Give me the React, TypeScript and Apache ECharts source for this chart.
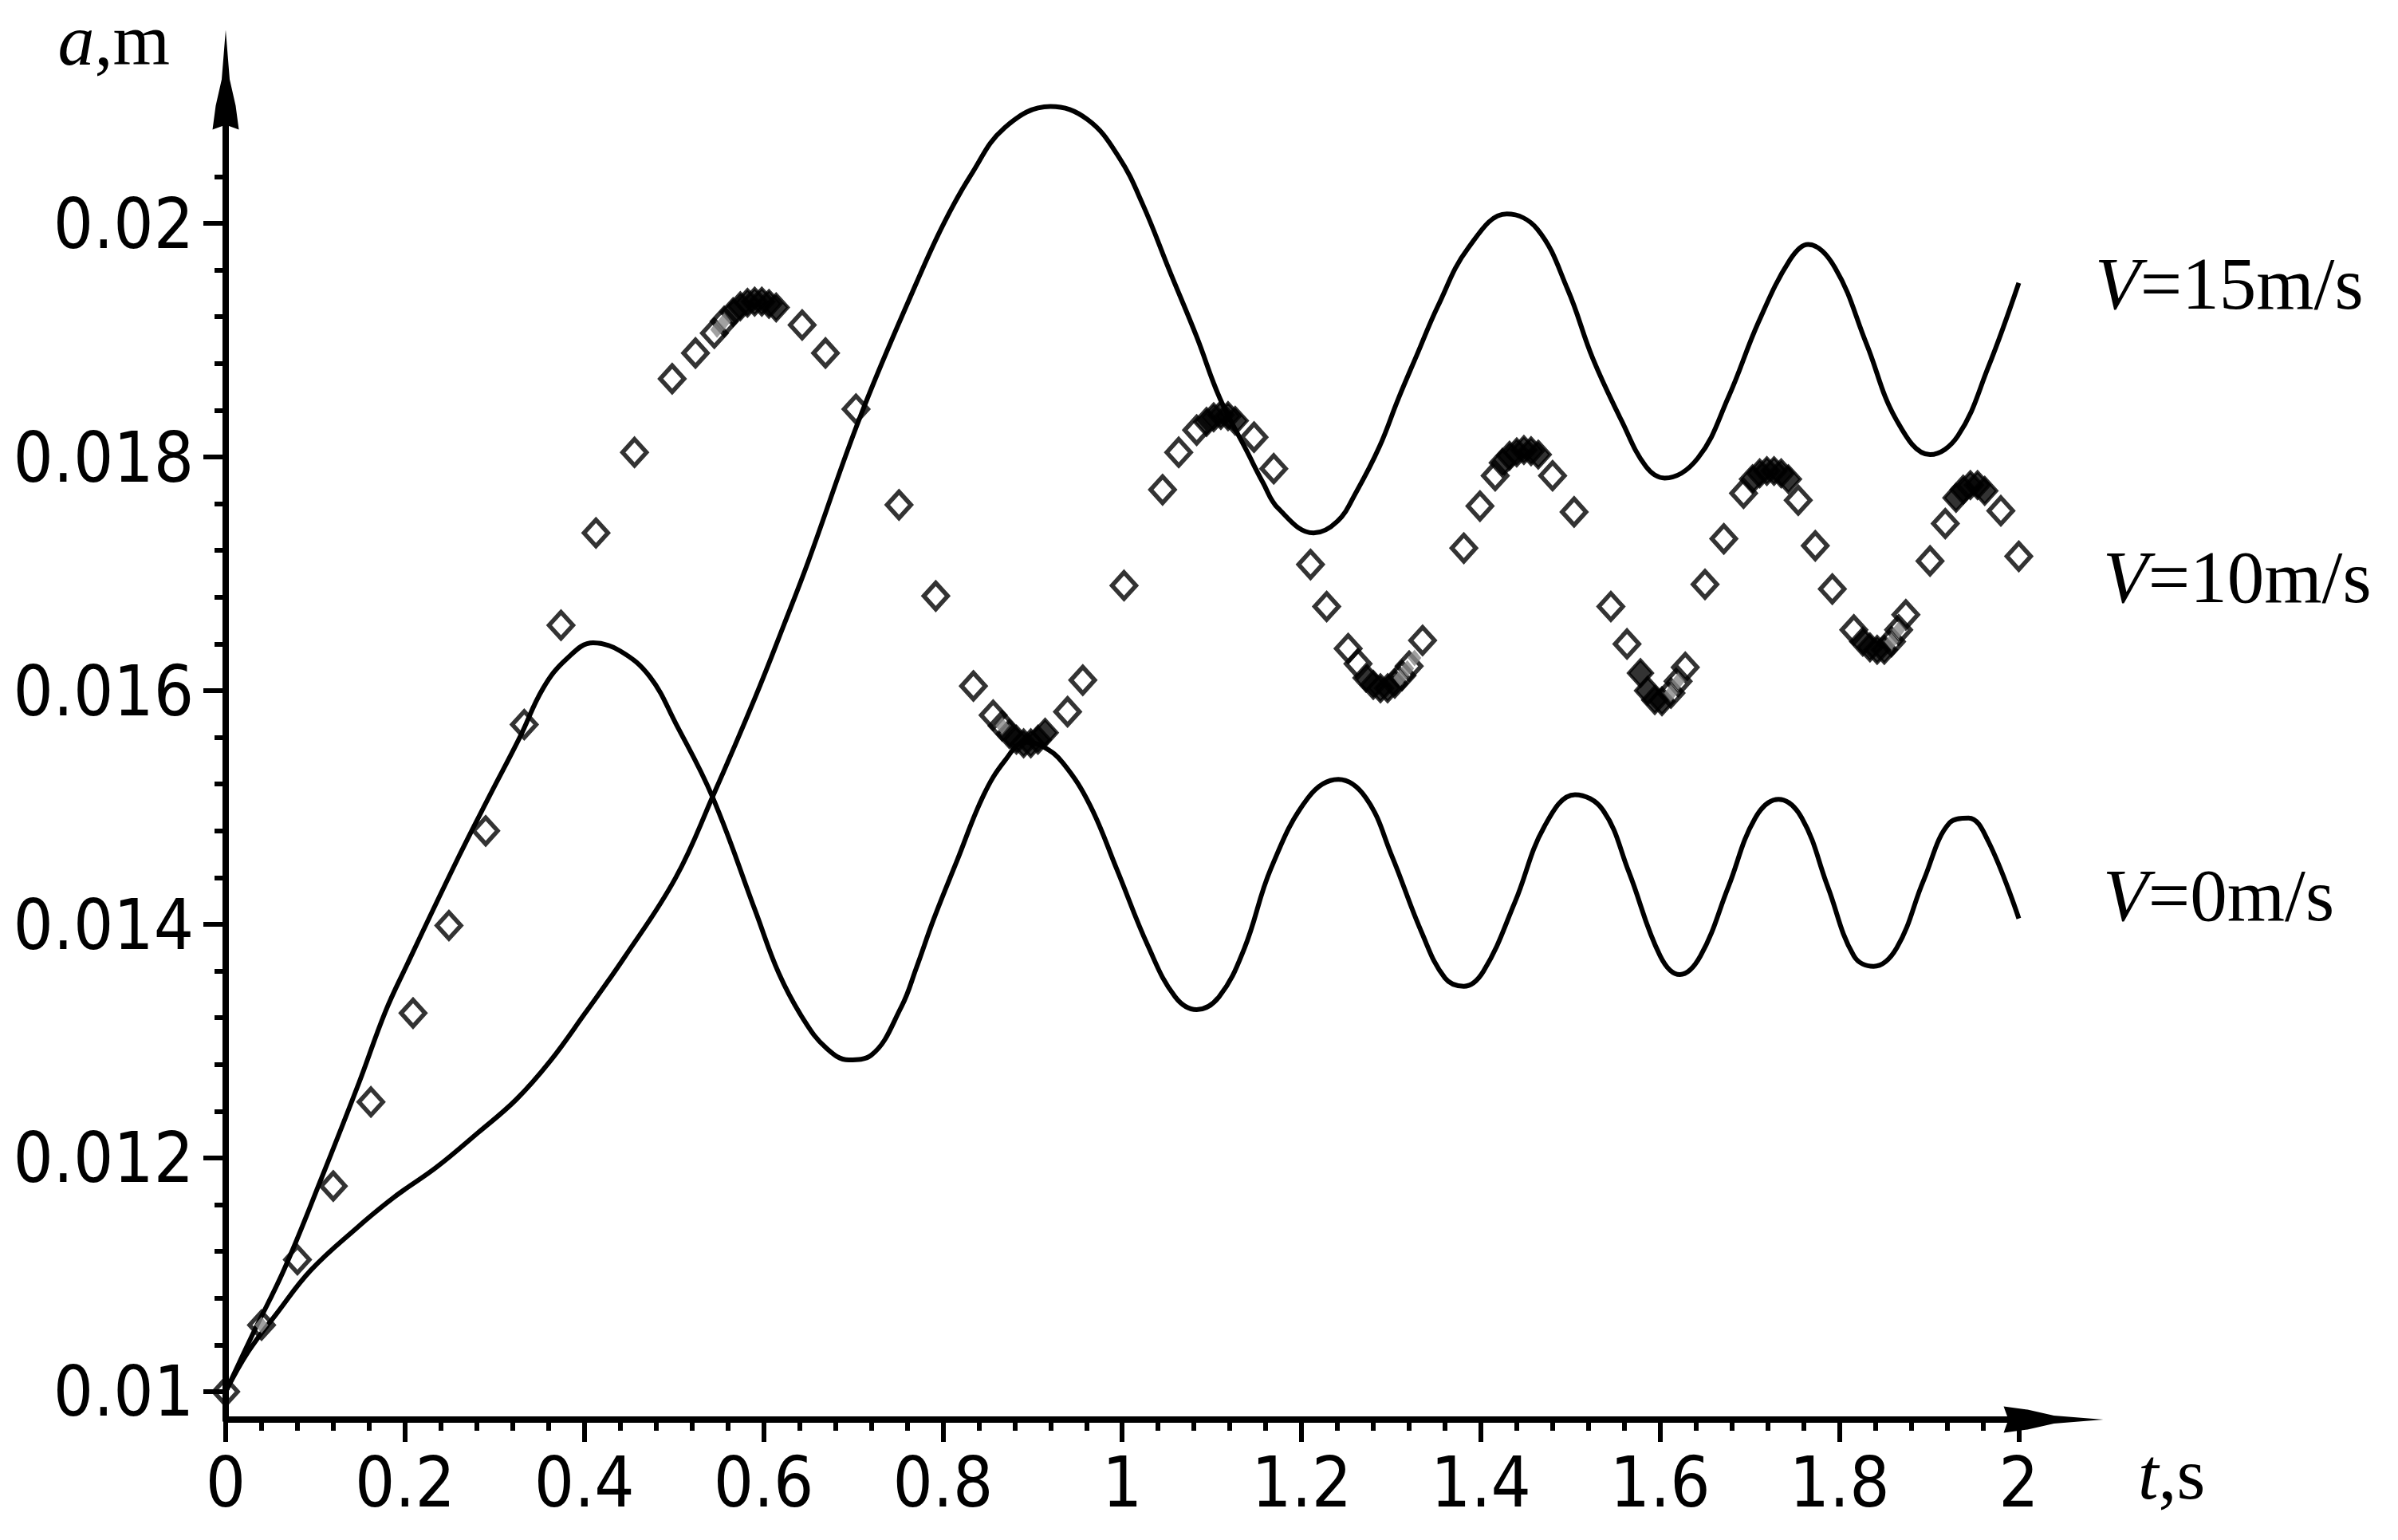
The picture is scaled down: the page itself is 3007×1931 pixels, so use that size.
import React, { useEffect, useRef } from 'react';
import * as echarts from 'echarts';

const W = 3007;
const H = 1931;

// Axis extents (t in s, a in m); the axis ends sit at the arrow centres
const X_MIN = 0;
const X_MAX = 2.0387;
const Y_MIN = 0.009761;
const Y_MAX = 0.021229;

const xMajorTicks = [0, 0.2, 0.4, 0.6, 0.8, 1, 1.2, 1.4, 1.6, 1.8, 2];
const xTickLabels = ['0', '0.2', '0.4', '0.6', '0.8', '1', '1.2', '1.4', '1.6', '1.8', '2'];
const xMinorTicks = [
  0.04, 0.08, 0.12, 0.16, 0.24, 0.28, 0.32, 0.36, 0.44, 0.48, 0.52, 0.56,
  0.64, 0.68, 0.72, 0.76, 0.84, 0.88, 0.92, 0.96, 1.04, 1.08, 1.12, 1.16,
  1.24, 1.28, 1.32, 1.36, 1.44, 1.48, 1.52, 1.56, 1.64, 1.68, 1.72, 1.76,
  1.84, 1.88, 1.92, 1.96,
];
const yMajorTicks = [0.01, 0.012, 0.014, 0.016, 0.018, 0.02];
const yTickLabels = ['0.01', '0.012', '0.014', '0.016', '0.018', '0.02'];
const yMinorTicks = [
  0.0104, 0.0108, 0.0112, 0.0116, 0.0124, 0.0128, 0.0132, 0.0136,
  0.0144, 0.0148, 0.0152, 0.0156, 0.0164, 0.0168, 0.0172, 0.0176,
  0.0184, 0.0188, 0.0192, 0.0196, 0.0204,
];

// V = 0 m/s (solid line)
const v0Curve: [number, number][] = [
  [0, 0.01], [0.03, 0.01049], [0.066, 0.01106], [0.107, 0.01183], [0.149, 0.01265],
  [0.178, 0.01325], [0.202, 0.01365], [0.26, 0.01458], [0.295, 0.01511], [0.328, 0.0156],
  [0.354, 0.01602], [0.38, 0.01627], [0.41, 0.01641], [0.44, 0.01634], [0.473, 0.01612],
  [0.502, 0.01572], [0.543, 0.01509], [0.591, 0.01411], [0.617, 0.01358], [0.645, 0.01318],
  [0.67, 0.01294], [0.695, 0.01284], [0.72, 0.01288], [0.754, 0.0133], [0.77, 0.01362],
  [0.79, 0.01405], [0.816, 0.01455], [0.845, 0.0151], [0.869, 0.0154], [0.892, 0.01556],
  [0.912, 0.01552], [0.934, 0.01538], [0.964, 0.01502], [0.994, 0.01447], [1.029, 0.01381],
  [1.059, 0.01338], [1.083, 0.01327], [1.108, 0.01338], [1.136, 0.01379], [1.166, 0.01448],
  [1.207, 0.01508], [1.241, 0.01524], [1.272, 0.01508], [1.301, 0.01458], [1.334, 0.01393],
  [1.36, 0.01354], [1.381, 0.01347], [1.403, 0.0136], [1.438, 0.01419], [1.471, 0.01484],
  [1.505, 0.01511], [1.536, 0.01498], [1.565, 0.01445], [1.6, 0.01373], [1.622, 0.01357],
  [1.645, 0.01373], [1.676, 0.01432], [1.706, 0.01491], [1.732, 0.01507], [1.758, 0.01491],
  [1.787, 0.01432], [1.816, 0.01373], [1.838, 0.01364], [1.864, 0.0138], [1.894, 0.01438],
  [1.923, 0.01487], [1.944, 0.01491], [1.966, 0.01471], [2.0, 0.01405],
];

// V = 15 m/s (solid line)
const v15Curve: [number, number][] = [
  [0, 0.01], [0.025, 0.01034], [0.057, 0.01067], [0.095, 0.01104], [0.146, 0.0114],
  [0.187, 0.01166], [0.235, 0.01192], [0.282, 0.01222], [0.324, 0.0125], [0.362, 0.01283],
  [0.4, 0.01323], [0.445, 0.01372], [0.502, 0.0144], [0.543, 0.01509], [0.591, 0.01595],
  [0.623, 0.01657], [0.65, 0.01711], [0.708, 0.01835], [0.771, 0.0195], [0.801, 0.02],
  [0.831, 0.02041], [0.869, 0.02082], [0.92, 0.021], [0.961, 0.02089], [0.996, 0.02057],
  [1.023, 0.02016], [1.053, 0.01959], [1.083, 0.01903], [1.109, 0.0185], [1.139, 0.01805],
  [1.157, 0.01778], [1.174, 0.01756], [1.2135, 0.01735], [1.24, 0.01745], [1.261, 0.0177],
  [1.287, 0.01809], [1.308, 0.0185], [1.329, 0.01888], [1.352, 0.01929], [1.386, 0.01979],
  [1.429, 0.02008], [1.463, 0.01995], [1.497, 0.01943], [1.525, 0.01884], [1.557, 0.01831],
  [1.584, 0.01792], [1.605, 0.01782], [1.642, 0.01799], [1.676, 0.01851], [1.71, 0.01916],
  [1.745, 0.01969], [1.765, 0.01982], [1.795, 0.01962], [1.83, 0.01897], [1.864, 0.01831],
  [1.901, 0.01802], [1.932, 0.01818], [1.966, 0.01877], [2.0, 0.01949],
];

// V = 10 m/s: sparse (hollow) diamonds of the point plot
const v10Points: [number, number][] = [
  [0, 0.01], [0.04, 0.01057], [0.08, 0.01113], [0.12, 0.01176], [0.162, 0.01248],
  [0.209, 0.01324], [0.249, 0.01399], [0.29, 0.0148], [0.333, 0.01571], [0.374, 0.01656],
  [0.413, 0.01735], [0.456, 0.01804], [0.498, 0.01867], [0.524, 0.01889], [0.545, 0.01906],
  [0.556, 0.01916], [0.643, 0.01913], [0.669, 0.01889], [0.703, 0.01841], [0.751, 0.01759],
  [0.792, 0.01681], [0.834, 0.01604], [0.856, 0.01579], [0.866, 0.0157], [0.939, 0.01582],
  [0.956, 0.01609], [1.002, 0.0169], [1.045, 0.01772], [1.063, 0.01804], [1.083, 0.01823],
  [1.147, 0.01817], [1.169, 0.0179], [1.21, 0.01708], [1.228, 0.01672], [1.252, 0.01636],
  [1.263, 0.01623], [1.312, 0.01613], [1.32, 0.01621], [1.335, 0.01643], [1.381, 0.01722],
  [1.399, 0.01758], [1.416, 0.01784], [1.48, 0.01784], [1.504, 0.01753], [1.545, 0.01672],
  [1.563, 0.0164], [1.612, 0.01598], [1.62, 0.01608], [1.628, 0.0162], [1.65, 0.01691],
  [1.671, 0.0173], [1.693, 0.01769], [1.754, 0.01763], [1.773, 0.01724], [1.792, 0.01687],
  [1.816, 0.01652], [1.858, 0.01642], [1.866, 0.01652], [1.874, 0.01665], [1.901, 0.01711],
  [1.918, 0.01743], [1.98, 0.01754], [2.0, 0.01715],
];

// V = 10 m/s: densely sampled points at the extrema (they merge into black blobs)
const v10DensePoints: [number, number][] = [
  [0.566, 0.01924], [0.574, 0.01929], [0.582, 0.01932], [0.59, 0.01933], [0.598, 0.01933],
  [0.606, 0.01931], [0.614, 0.01928],
  [0.874, 0.01563], [0.882, 0.01558], [0.89, 0.01555], [0.898, 0.01555], [0.906, 0.01558],
  [0.914, 0.01564],
  [1.094, 0.0183], [1.102, 0.01834], [1.11, 0.01836], [1.118, 0.01835], [1.126, 0.01831],
  [1.272, 0.01611], [1.28, 0.01605], [1.288, 0.01602], [1.296, 0.01602], [1.304, 0.01606],
  [1.424, 0.01795], [1.432, 0.01801], [1.44, 0.01804], [1.448, 0.01806], [1.456, 0.01805],
  [1.464, 0.01802],
  [1.578, 0.01615], [1.586, 0.016], [1.594, 0.01592], [1.602, 0.01591],
  [1.703, 0.01781], [1.711, 0.01786], [1.719, 0.01788], [1.727, 0.01788], [1.735, 0.01786],
  [1.743, 0.01781],
  [1.826, 0.01642], [1.834, 0.01637], [1.842, 0.01635], [1.85, 0.01635],
  [1.93, 0.01765], [1.938, 0.01772], [1.946, 0.01776], [1.954, 0.01776], [1.962, 0.01771],
];

// grey overlap spots of the V = 10 m/s point plot
const v10GreyPoints: [number, number][] = [
  [0.04, 0.01057], [0.548, 0.01909], [0.556, 0.01916], [0.866, 0.0157],
  [1.31, 0.01611], [1.318, 0.01619], [1.326, 0.01628], [1.612, 0.01598],
  [1.62, 0.01608], [1.858, 0.01642], [1.866, 0.01652],
];

const seriesLabels = ['15m/s', '10m/s', '0m/s'];

const FONT_TICK = "'Liberation Sans Narrow', 'DejaVu Sans Condensed', Roboto, 'Liberation Sans', sans-serif";
const FONT_SERIF = "'Liberation Serif', 'Times New Roman', 'DejaVu Serif', serif";

// slender arrow head (tip at the top of its 33 x 125 box)
const ARROW = 'path://M16.5,0L21.5,62L29,95L33,125L16.5,119L0,125L4,95L11.5,62Z';

const pick = (ticks: number[], labels: string[]) => (v: number) => {
  const i = ticks.findIndex((t) => Math.abs(t - v) < 1e-7);
  return i >= 0 ? labels[i] : '';
};

const tickLine = { color: '#000', width: 6 };
const DIAMOND_SIZE = [30, 33];

function buildOption(): echarts.EChartsCoreOption {
  const serifRich = {
    i: { fontStyle: 'italic', fontFamily: FONT_SERIF, fontSize: 92, lineHeight: 92, color: '#000' },
  };
  return {
    animation: false,
    backgroundColor: '#fff',
    grid: { left: 283, right: 432, top: 100, bottom: 151, containLabel: false },
    xAxis: [
      {
        type: 'value',
        position: 'bottom',
        min: X_MIN,
        max: X_MAX,
        axisLine: {
          show: true,
          onZero: false,
          lineStyle: { color: '#000', width: 8 },
          symbol: ['none', ARROW],
          symbolSize: [33, 125],
        },
        axisTick: { show: true, customValues: xMajorTicks, length: 28, lineStyle: tickLine },
        axisLabel: {
          show: true,
          customValues: xMajorTicks,
          formatter: pick(xMajorTicks, xTickLabels),
          margin: 34,
          color: '#000',
          fontFamily: FONT_TICK,
          fontSize: 88,
        },
        splitLine: { show: false },
        name: '{i|t},s',
        nameLocation: 'end',
        nameGap: 106,
        nameTextStyle: {
          fontFamily: FONT_SERIF,
          fontSize: 92,
          lineHeight: 92,
          color: '#000',
          align: 'left',
          verticalAlign: 'top',
          padding: [22, 0, 0, 0],
          rich: serifRich,
        },
      },
      {
        type: 'value',
        position: 'bottom',
        min: X_MIN,
        max: X_MAX,
        axisLine: { show: false, onZero: false },
        axisTick: { show: true, customValues: xMinorTicks, length: 14, lineStyle: tickLine },
        axisLabel: { show: false },
        splitLine: { show: false },
      },
    ],
    yAxis: [
      {
        type: 'value',
        position: 'left',
        min: Y_MIN,
        max: Y_MAX,
        axisLine: {
          show: true,
          onZero: false,
          lineStyle: { color: '#000', width: 8 },
          symbol: ['none', ARROW],
          symbolSize: [33, 125],
        },
        axisTick: { show: true, customValues: yMajorTicks, length: 28, lineStyle: tickLine },
        axisLabel: {
          show: true,
          customValues: yMajorTicks,
          formatter: pick(yMajorTicks, yTickLabels),
          margin: 40,
          color: '#000',
          fontFamily: FONT_TICK,
          fontSize: 88,
        },
        splitLine: { show: false },
        name: '{i|a},m',
        nameLocation: 'end',
        nameGap: 50,
        nameTextStyle: {
          fontFamily: FONT_SERIF,
          fontSize: 92,
          lineHeight: 92,
          color: '#000',
          align: 'right',
          verticalAlign: 'middle',
          padding: [0, 70, 0, 0],
          rich: serifRich,
        },
      },
      {
        type: 'value',
        position: 'left',
        min: Y_MIN,
        max: Y_MAX,
        axisLine: { show: false, onZero: false },
        axisTick: { show: true, customValues: yMinorTicks, length: 14, lineStyle: tickLine },
        axisLabel: { show: false },
        splitLine: { show: false },
      },
    ],
    series: [
      {
        name: 'V=0m/s',
        type: 'line',
        data: v0Curve,
        smooth: 0.4,
        showSymbol: false,
        lineStyle: { color: '#000', width: 6 },
        z: 2,
        silent: true,
      },
      {
        name: 'V=15m/s',
        type: 'line',
        data: v15Curve,
        smooth: 0.4,
        showSymbol: false,
        lineStyle: { color: '#000', width: 6 },
        z: 2,
        silent: true,
      },
      {
        name: 'V=10m/s',
        type: 'scatter',
        data: v10Points,
        symbol: 'diamond',
        symbolSize: DIAMOND_SIZE,
        itemStyle: { color: 'rgba(255,255,255,0)', borderColor: '#000', borderWidth: 5.5 },
        z: 3,
        silent: true,
      },
      {
        name: 'V=10m/s (dense)',
        type: 'scatter',
        data: v10DensePoints,
        symbol: 'diamond',
        symbolSize: DIAMOND_SIZE,
        itemStyle: { color: '#000', borderColor: '#000', borderWidth: 4 },
        z: 3,
        silent: true,
      },
      {
        name: 'V=10m/s overlap',
        type: 'scatter',
        data: v10GreyPoints,
        symbol: 'diamond',
        symbolSize: [17, 21],
        itemStyle: { color: '#8a8a8a' },
        z: 4,
        silent: true,
      },
    ],
    graphic: [
      { x: 2627, y: 355, label: seriesLabels[0] },
      { x: 2637, y: 723, label: seriesLabels[1] },
      { x: 2637, y: 1122, label: seriesLabels[2] },
    ].map((g) => ({
      type: 'text',
      x: g.x,
      y: g.y,
      silent: true,
      style: {
        text: '{i|V}=' + g.label,
        fontFamily: FONT_SERIF,
        fontSize: 93,
        fill: '#000',
        align: 'left',
        verticalAlign: 'middle',
        rich: {
          i: { fontStyle: 'italic', fontFamily: FONT_SERIF, fontSize: 93, fill: '#000' },
        },
      },
    })),
  };
}

export default function App() {
  const ref = useRef<HTMLDivElement>(null);
  useEffect(() => {
    if (!ref.current) return;
    const chart = echarts.init(ref.current, null, { renderer: 'svg', width: W, height: H });
    chart.setOption(buildOption());
    return () => {
      chart.dispose();
    };
  }, []);
  return (
    <div
      ref={ref}
      style={{ position: 'fixed', left: 0, top: 0, width: W, height: H, background: '#fff' }}
    />
  );
}
